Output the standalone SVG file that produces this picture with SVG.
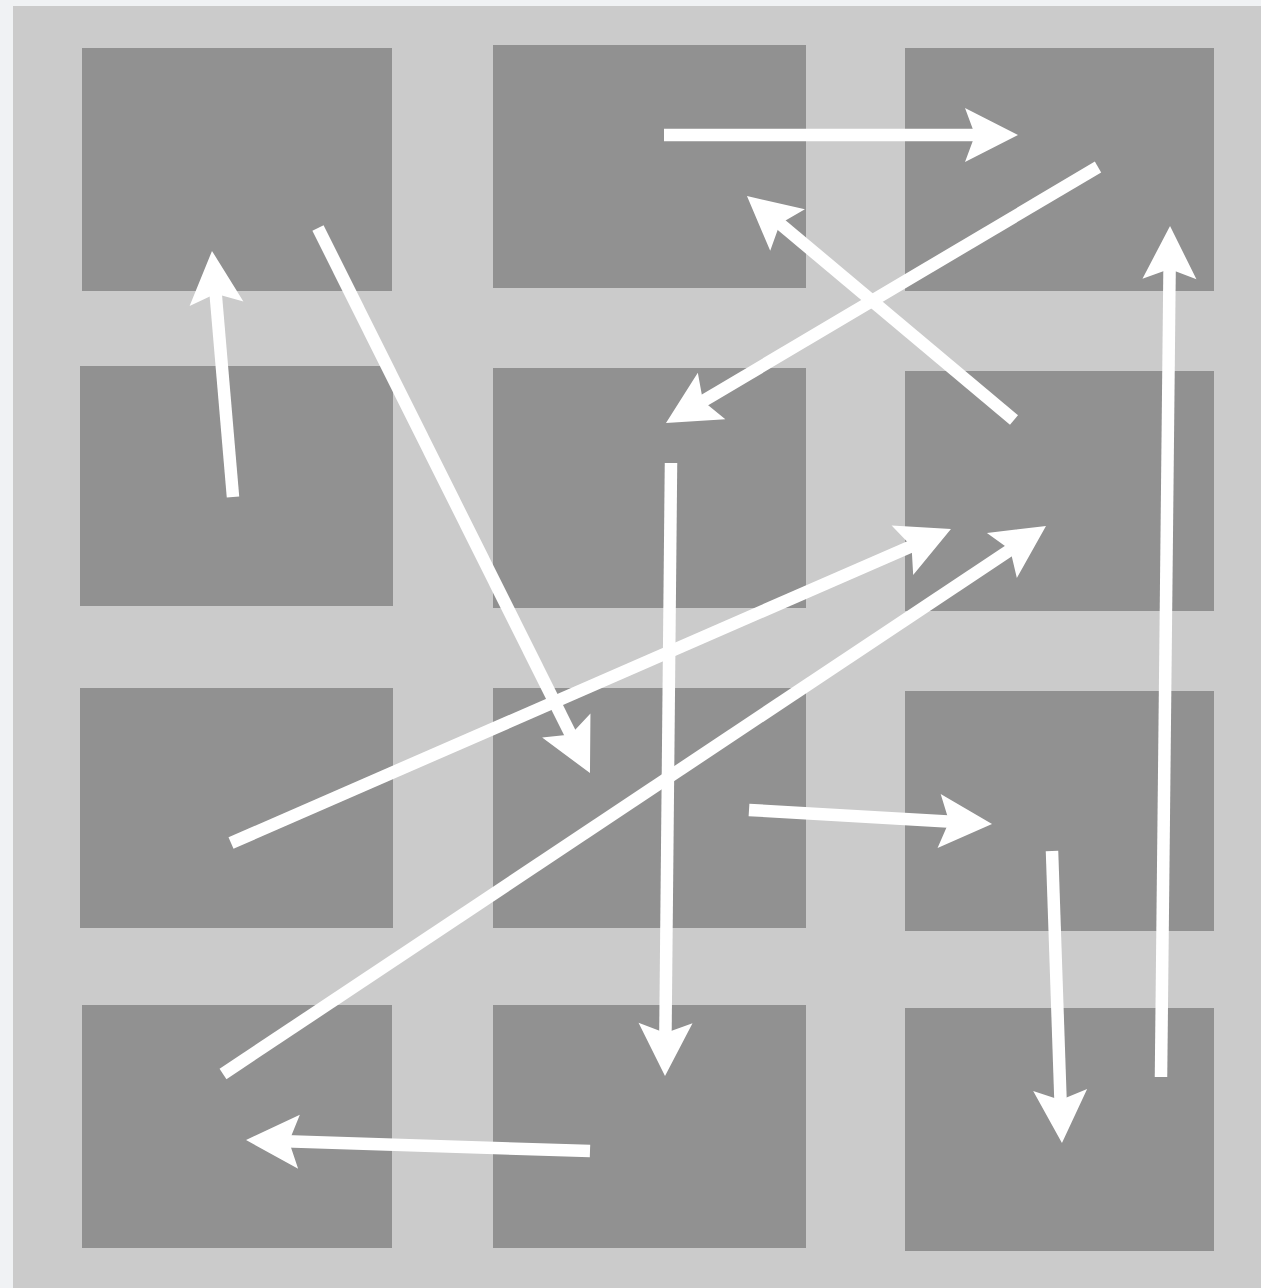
<svg xmlns="http://www.w3.org/2000/svg" width="1261" height="1288" viewBox="0 0 1261 1288">
<defs>
<style>
.box{fill:#919191}
.arr{stroke:#ffffff;stroke-width:12.5;fill:none;marker-end:url(#head)}
</style>
<marker id="head" markerUnits="userSpaceOnUse" orient="auto" markerWidth="60" markerHeight="60" viewBox="-15 -30 60 60" refX="0" refY="0" overflow="visible">
<path d="M40,0 L-13,-27 L-3,0 L-13,27 Z" fill="#ffffff"/>
</marker>
</defs>
<rect x="0" y="0" width="1261" height="1288" fill="#f0f2f4"/>
<rect x="13" y="6" width="1248" height="1282" fill="#cbcbcb"/>
<g id="n1"><rect class="box" x="82" y="48" width="310" height="243"/></g>
<g id="n2"><rect class="box" x="493" y="45" width="313" height="243"/></g>
<g id="n3"><rect class="box" x="905" y="48" width="309" height="243"/></g>
<g id="n4"><rect class="box" x="80" y="366" width="313" height="240"/></g>
<g id="n5"><rect class="box" x="493" y="368" width="313" height="240"/></g>
<g id="n6"><rect class="box" x="905" y="371" width="309" height="240"/></g>
<g id="n7"><rect class="box" x="80" y="688" width="313" height="240"/></g>
<g id="n8"><rect class="box" x="493" y="688" width="313" height="240"/></g>
<g id="n9"><rect class="box" x="905" y="691" width="309" height="240"/></g>
<g id="n10"><rect class="box" x="82" y="1005" width="310" height="243"/></g>
<g id="n11"><rect class="box" x="493" y="1005" width="313" height="243"/></g>
<g id="n12"><rect class="box" x="905" y="1008" width="309" height="243"/></g>
<g id="connectors">
<line class="arr" x1="664" y1="135" x2="978" y2="135"/>
<line class="arr" x1="1098" y1="167" x2="700.4" y2="402.6"/>
<line class="arr" x1="1014" y1="420" x2="777.6" y2="221.7"/>
<line class="arr" x1="233" y1="497" x2="215.4" y2="290.8"/>
<line class="arr" x1="318" y1="228" x2="572.1" y2="737.2"/>
<line class="arr" x1="671" y1="463" x2="665.4" y2="1036"/>
<line class="arr" x1="231" y1="843" x2="914.3" y2="545"/>
<line class="arr" x1="223" y1="1074" x2="1012.7" y2="548.2"/>
<line class="arr" x1="749" y1="810" x2="952.1" y2="821.7"/>
<line class="arr" x1="1052" y1="851" x2="1060.6" y2="1103"/>
<line class="arr" x1="1161" y1="1077" x2="1169.6" y2="266"/>
<line class="arr" x1="590" y1="1151" x2="286" y2="1141.3"/>
</g>
</svg>
